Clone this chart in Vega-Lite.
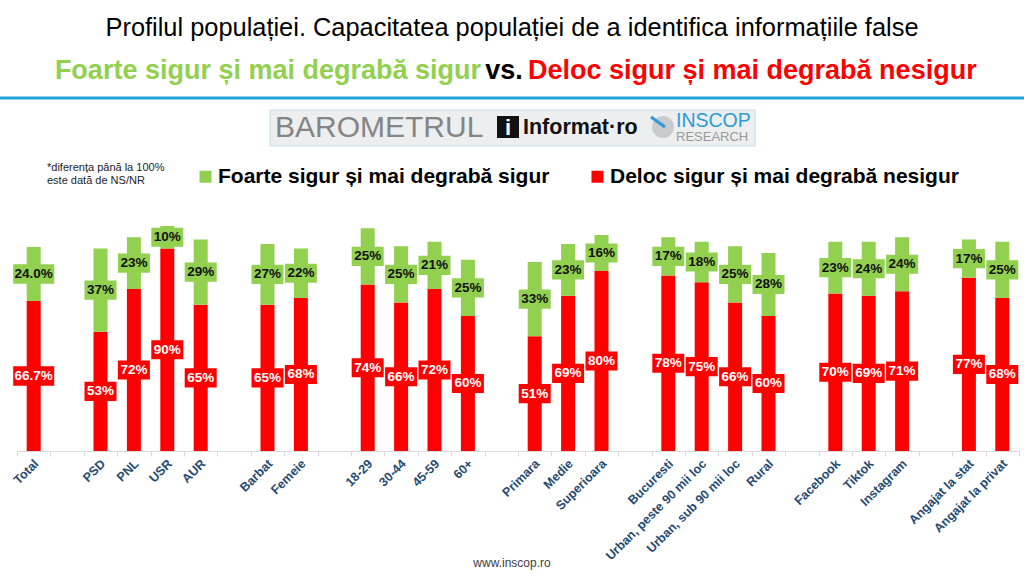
{
  "$schema": "https://vega.github.io/schema/vega-lite/v6.json",
  "width": 1002,
  "height": 451,
  "autosize": {"type": "none"},
  "padding": {"left": 17, "top": 0, "right": 5, "bottom": 125},
  "background": "white",
  "config": {"view": {"stroke": null}, "font": "Liberation Sans"},
  "datasets": {
    "survey": [
      {"cat": "Total", "series": "Deloc sigur și mai degrabă nesigur", "value": 66.7},
      {"cat": "Total", "series": "Foarte sigur și mai degrabă sigur", "value": 24.0},
      {"cat": "PSD", "series": "Deloc sigur și mai degrabă nesigur", "value": 53},
      {"cat": "PSD", "series": "Foarte sigur și mai degrabă sigur", "value": 37},
      {"cat": "PNL", "series": "Deloc sigur și mai degrabă nesigur", "value": 72},
      {"cat": "PNL", "series": "Foarte sigur și mai degrabă sigur", "value": 23},
      {"cat": "USR", "series": "Deloc sigur și mai degrabă nesigur", "value": 90},
      {"cat": "USR", "series": "Foarte sigur și mai degrabă sigur", "value": 10},
      {"cat": "AUR", "series": "Deloc sigur și mai degrabă nesigur", "value": 65},
      {"cat": "AUR", "series": "Foarte sigur și mai degrabă sigur", "value": 29},
      {"cat": "Barbat", "series": "Deloc sigur și mai degrabă nesigur", "value": 65},
      {"cat": "Barbat", "series": "Foarte sigur și mai degrabă sigur", "value": 27},
      {"cat": "Femeie", "series": "Deloc sigur și mai degrabă nesigur", "value": 68},
      {"cat": "Femeie", "series": "Foarte sigur și mai degrabă sigur", "value": 22},
      {"cat": "18-29", "series": "Deloc sigur și mai degrabă nesigur", "value": 74},
      {"cat": "18-29", "series": "Foarte sigur și mai degrabă sigur", "value": 25},
      {"cat": "30-44", "series": "Deloc sigur și mai degrabă nesigur", "value": 66},
      {"cat": "30-44", "series": "Foarte sigur și mai degrabă sigur", "value": 25},
      {"cat": "45-59", "series": "Deloc sigur și mai degrabă nesigur", "value": 72},
      {"cat": "45-59", "series": "Foarte sigur și mai degrabă sigur", "value": 21},
      {"cat": "60+", "series": "Deloc sigur și mai degrabă nesigur", "value": 60},
      {"cat": "60+", "series": "Foarte sigur și mai degrabă sigur", "value": 25},
      {"cat": "Primara", "series": "Deloc sigur și mai degrabă nesigur", "value": 51},
      {"cat": "Primara", "series": "Foarte sigur și mai degrabă sigur", "value": 33},
      {"cat": "Medie", "series": "Deloc sigur și mai degrabă nesigur", "value": 69},
      {"cat": "Medie", "series": "Foarte sigur și mai degrabă sigur", "value": 23},
      {"cat": "Superioara", "series": "Deloc sigur și mai degrabă nesigur", "value": 80},
      {"cat": "Superioara", "series": "Foarte sigur și mai degrabă sigur", "value": 16},
      {"cat": "Bucuresti", "series": "Deloc sigur și mai degrabă nesigur", "value": 78},
      {"cat": "Bucuresti", "series": "Foarte sigur și mai degrabă sigur", "value": 17},
      {"cat": "Urban, peste 90 mii loc", "series": "Deloc sigur și mai degrabă nesigur", "value": 75},
      {"cat": "Urban, peste 90 mii loc", "series": "Foarte sigur și mai degrabă sigur", "value": 18},
      {"cat": "Urban, sub 90 mii loc", "series": "Deloc sigur și mai degrabă nesigur", "value": 66},
      {"cat": "Urban, sub 90 mii loc", "series": "Foarte sigur și mai degrabă sigur", "value": 25},
      {"cat": "Rural", "series": "Deloc sigur și mai degrabă nesigur", "value": 60},
      {"cat": "Rural", "series": "Foarte sigur și mai degrabă sigur", "value": 28},
      {"cat": "Facebook", "series": "Deloc sigur și mai degrabă nesigur", "value": 70},
      {"cat": "Facebook", "series": "Foarte sigur și mai degrabă sigur", "value": 23},
      {"cat": "Tiktok", "series": "Deloc sigur și mai degrabă nesigur", "value": 69},
      {"cat": "Tiktok", "series": "Foarte sigur și mai degrabă sigur", "value": 24},
      {"cat": "Instagram", "series": "Deloc sigur și mai degrabă nesigur", "value": 71},
      {"cat": "Instagram", "series": "Foarte sigur și mai degrabă sigur", "value": 24},
      {"cat": "Angajat la stat", "series": "Deloc sigur și mai degrabă nesigur", "value": 77},
      {"cat": "Angajat la stat", "series": "Foarte sigur și mai degrabă sigur", "value": 17},
      {"cat": "Angajat la privat", "series": "Deloc sigur și mai degrabă nesigur", "value": 68},
      {"cat": "Angajat la privat", "series": "Foarte sigur și mai degrabă sigur", "value": 25}
    ]
  },
  "layer": [
    {
      "data": {"name": "survey"},
      "transform": [
        {"stack": "value", "groupby": ["cat"], "sort": [{"field": "series", "order": "ascending"}], "as": ["y0", "y1"]}
      ],
      "mark": {"type": "bar", "width": 14},
      "encoding": {
        "x": {
          "field": "cat",
          "type": "nominal",
          "sort": null,
          "scale": {
            "domain": ["Total", " ", "PSD", "PNL", "USR", "AUR", "  ", "Barbat", "Femeie", "   ", "18-29", "30-44", "45-59", "60+", "    ", "Primara", "Medie", "Superioara", "     ", "Bucuresti", "Urban, peste 90 mii loc", "Urban, sub 90 mii loc", "Rural", "      ", "Facebook", "Tiktok", "Instagram", "       ", "Angajat la stat", "Angajat la privat"],
            "paddingInner": 0,
            "paddingOuter": 0
          },
          "axis": {
            "title": null,
            "labelAngle": -45,
            "labelAlign": "right",
            "labelBaseline": "top",
            "labelFont": "Liberation Sans",
            "labelFontSize": 12.5,
            "labelFontWeight": "bold",
            "labelColor": "#264B73",
            "labelLimit": 300,
            "labelPadding": 1,
            "labelOffset": -2,
            "tickBand": "extent",
            "tickSize": 5,
            "tickColor": "#D9D9D9",
            "domainColor": "#D9D9D9",
            "grid": false
          }
        },
        "y": {"field": "y0", "type": "quantitative", "scale": {"domain": [0, 200.44], "nice": false}, "axis": null},
        "y2": {"field": "y1"},
        "color": {
          "field": "series",
          "type": "nominal",
          "scale": {
            "domain": ["Foarte sigur și mai degrabă sigur", "Deloc sigur și mai degrabă nesigur"],
            "range": ["#92D050", "#FF0000"]
          },
          "legend": {
            "title": null,
            "orient": "none",
            "legendX": 178,
            "legendY": 166,
            "direction": "horizontal",
            "symbolType": "square",
            "symbolSize": 144,
            "symbolStrokeWidth": 0,
            "labelFont": "Liberation Sans",
            "labelFontSize": 21,
            "labelFontWeight": "bold",
            "labelColor": "#000000",
            "labelLimit": 500,
            "labelOffset": 2,
            "columnPadding": 37
          }
        }
      }
    },
    {
      "data": {"name": "survey"},
      "transform": [
        {"stack": "value", "groupby": ["cat"], "sort": [{"field": "series", "order": "ascending"}], "as": ["y0", "y1"]},
        {"calculate": "(datum.y0 + datum.y1) / 2", "as": "mid"},
        {"filter": "datum.cat !== 'Total'"}
      ],
      "mark": {"type": "point", "shape": "M-1,-0.6H1V0.6H-1Z", "size": 1024, "filled": true, "opacity": 1, "strokeWidth": 0},
      "encoding": {
        "x": {"field": "cat", "type": "nominal", "sort": null},
        "y": {"field": "mid", "type": "quantitative"},
        "fill": {"condition": {"test": "datum.series === 'Deloc sigur și mai degrabă nesigur'", "value": "#FF0000"}, "value": "#92D050"}
      }
    },
    {
      "data": {"name": "survey"},
      "transform": [
        {"stack": "value", "groupby": ["cat"], "sort": [{"field": "series", "order": "ascending"}], "as": ["y0", "y1"]},
        {"calculate": "(datum.y0 + datum.y1) / 2", "as": "mid"},
        {"filter": "datum.cat === 'Total'"}
      ],
      "mark": {"type": "point", "shape": "M-1,-0.475H1V0.475H-1Z", "size": 1681, "filled": true, "opacity": 1, "strokeWidth": 0},
      "encoding": {
        "x": {"field": "cat", "type": "nominal", "sort": null},
        "y": {"field": "mid", "type": "quantitative"},
        "fill": {"condition": {"test": "datum.series === 'Deloc sigur și mai degrabă nesigur'", "value": "#FF0000"}, "value": "#92D050"}
      }
    },
    {
      "data": {"name": "survey"},
      "transform": [
        {"stack": "value", "groupby": ["cat"], "sort": [{"field": "series", "order": "ascending"}], "as": ["y0", "y1"]},
        {"calculate": "(datum.y0 + datum.y1) / 2", "as": "mid"},
        {"calculate": "datum.cat === 'Total' ? format(datum.value, '.1f') + '%' : format(datum.value, '.0f') + '%'", "as": "label"}
      ],
      "mark": {"type": "text", "font": "Liberation Sans", "fontSize": 13.5, "fontWeight": "bold", "baseline": "middle", "align": "center"},
      "encoding": {
        "x": {"field": "cat", "type": "nominal", "sort": null},
        "y": {"field": "mid", "type": "quantitative"},
        "text": {"field": "label"},
        "fill": {"condition": {"test": "datum.series === 'Deloc sigur și mai degrabă nesigur'", "value": "#FFFFFF"}, "value": "#111111"}
      }
    },
    {
      "data": {"values": [{}]},
      "mark": {"type": "text", "text": "Profilul populației. Capacitatea populației de a identifica informațiile false", "align": "center", "baseline": "middle", "font": "Liberation Sans", "fontSize": 25.4, "fill": "#000000"},
      "encoding": {"x": {"value": 495}, "y": {"value": 28}}
    },
    {
      "data": {"values": [{}]},
      "mark": {"type": "text", "text": "Foarte sigur și mai degrabă sigur", "align": "right", "baseline": "middle", "font": "Liberation Sans", "fontSize": 27, "fontWeight": "bold", "fill": "#92D050"},
      "encoding": {"x": {"value": 464}, "y": {"value": 71}}
    },
    {
      "data": {"values": [{}]},
      "mark": {"type": "text", "text": "vs.", "align": "center", "baseline": "middle", "font": "Liberation Sans", "fontSize": 27, "fontWeight": "bold", "fill": "#000000"},
      "encoding": {"x": {"value": 487}, "y": {"value": 71}}
    },
    {
      "data": {"values": [{}]},
      "mark": {"type": "text", "text": "Deloc sigur și mai degrabă nesigur", "align": "left", "baseline": "middle", "font": "Liberation Sans", "fontSize": 27, "fontWeight": "bold", "fill": "#FF0000"},
      "encoding": {"x": {"value": 511}, "y": {"value": 71}}
    },
    {
      "data": {"values": [{}]},
      "mark": {"type": "rect", "fill": "#23A4DC"},
      "encoding": {"x": {"value": -17}, "x2": {"value": 1007}, "y": {"value": 96.5}, "y2": {"value": 99.5}}
    },
    {
      "data": {"values": [{}]},
      "mark": {"type": "rect", "fill": "#ECEEEF", "stroke": "#BFDDE8", "strokeWidth": 1},
      "encoding": {"x": {"value": 253}, "x2": {"value": 738}, "y": {"value": 110}, "y2": {"value": 146}}
    },
    {
      "data": {"values": [{}]},
      "mark": {"type": "text", "text": "BAROMETRUL", "align": "left", "baseline": "middle", "font": "Liberation Sans", "fontSize": 30, "fill": "#858585"},
      "encoding": {"x": {"value": 258}, "y": {"value": 128}}
    },
    {
      "data": {"values": [{}]},
      "mark": {"type": "rect", "fill": "#111111"},
      "encoding": {"x": {"value": 480}, "x2": {"value": 502}, "y": {"value": 116}, "y2": {"value": 138}}
    },
    {
      "data": {"values": [{}]},
      "mark": {"type": "text", "text": "i", "align": "center", "baseline": "middle", "font": "Liberation Sans", "fontSize": 22, "fontWeight": "bold", "fill": "#FFFFFF"},
      "encoding": {"x": {"value": 491}, "y": {"value": 128}}
    },
    {
      "data": {"values": [{}]},
      "mark": {"type": "text", "text": "Informat·ro", "align": "left", "baseline": "middle", "font": "Liberation Sans", "fontSize": 21.5, "fontWeight": "bold", "fill": "#111111"},
      "encoding": {"x": {"value": 506}, "y": {"value": 128}}
    },
    {
      "data": {"values": [{}]},
      "mark": {"type": "point", "shape": "circle", "size": 480, "filled": true, "fill": "#C9CBCC", "opacity": 1},
      "encoding": {"x": {"value": 646}, "y": {"value": 127}}
    },
    {
      "data": {"values": [{}]},
      "mark": {"type": "rule", "stroke": "#2E9AD6", "strokeWidth": 3},
      "encoding": {"x": {"value": 634}, "x2": {"value": 648}, "y": {"value": 117}, "y2": {"value": 127}}
    },
    {
      "data": {"values": [{}]},
      "mark": {"type": "text", "text": "INSCOP", "align": "left", "baseline": "middle", "font": "Liberation Sans", "fontSize": 19.5, "fill": "#2E9AD6"},
      "encoding": {"x": {"value": 659}, "y": {"value": 121}}
    },
    {
      "data": {"values": [{}]},
      "mark": {"type": "text", "text": "RESEARCH", "align": "left", "baseline": "middle", "font": "Liberation Sans", "fontSize": 13, "fill": "#9A9A9A"},
      "encoding": {"x": {"value": 659}, "y": {"value": 137}}
    },
    {
      "data": {"values": [{}]},
      "mark": {"type": "text", "text": ["*diferența până la 100%", "este dată de NS/NR"], "align": "left", "baseline": "middle", "lineHeight": 13, "font": "Liberation Sans", "fontSize": 11, "fill": "#222222"},
      "encoding": {"x": {"value": 30}, "y": {"value": 168}}
    },
    {
      "data": {"values": [{}]},
      "mark": {"type": "text", "text": "www.inscop.ro", "align": "center", "baseline": "middle", "font": "Liberation Sans", "fontSize": 12, "fill": "#404040"},
      "encoding": {"x": {"value": 495}, "y": {"value": 563}}
    }
  ]
}
